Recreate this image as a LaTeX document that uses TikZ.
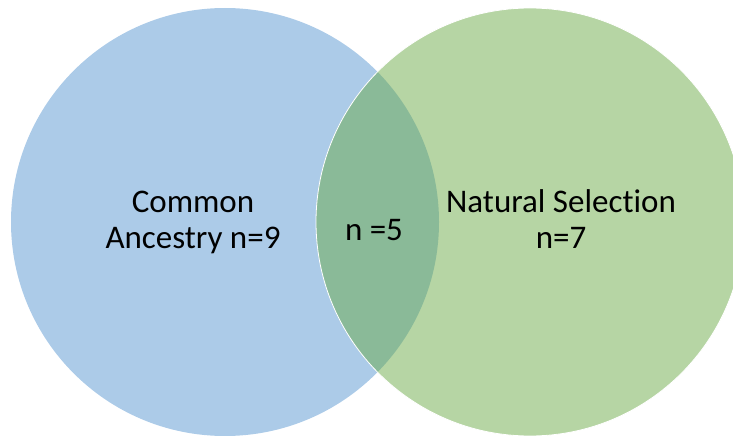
\documentclass[tikz,border=0pt]{standalone}
\usepackage{fontspec}
\setmainfont[Ligatures=NoCommon]{Carlito}
\definecolor{vblue}{RGB}{172,203,232}
\definecolor{vgreen}{RGB}{182,213,164}
\definecolor{vboth}{RGB}{138,186,152}
\begin{document}
\begin{tikzpicture}[x=1pt,y=-1pt,
  lbl/.style={inner sep=0pt,font=\fontsize{33}{36}\selectfont,text=black}]
\useasboundingbox (0,0) rectangle (733,436);
\clip (0,0) rectangle (733,436);
\coordinate (cl) at (225,222);
\coordinate (cr) at (530,222);
\fill[vblue] (cl) circle[radius=214];
\fill[vgreen] (cr) circle[radius=214];
\begin{scope}
  \clip (cl) circle[radius=214];
  \fill[vboth] (cr) circle[radius=214];
\end{scope}
\draw[white,line width=0.8pt] (cr) circle[radius=214];
\node[lbl,anchor=base] (common) at (193,212) {Common};
\node[lbl,anchor=base] (ancestry) at (193,248) {Ancestry n=9};
\node[lbl,anchor=base] (both) at (374,240) {n =5};
\node[lbl,anchor=base] (natural) at (561,212) {Natural Selection};
\node[lbl,anchor=base] (nseven) at (561,248) {n=7};
\end{tikzpicture}
\end{document}
